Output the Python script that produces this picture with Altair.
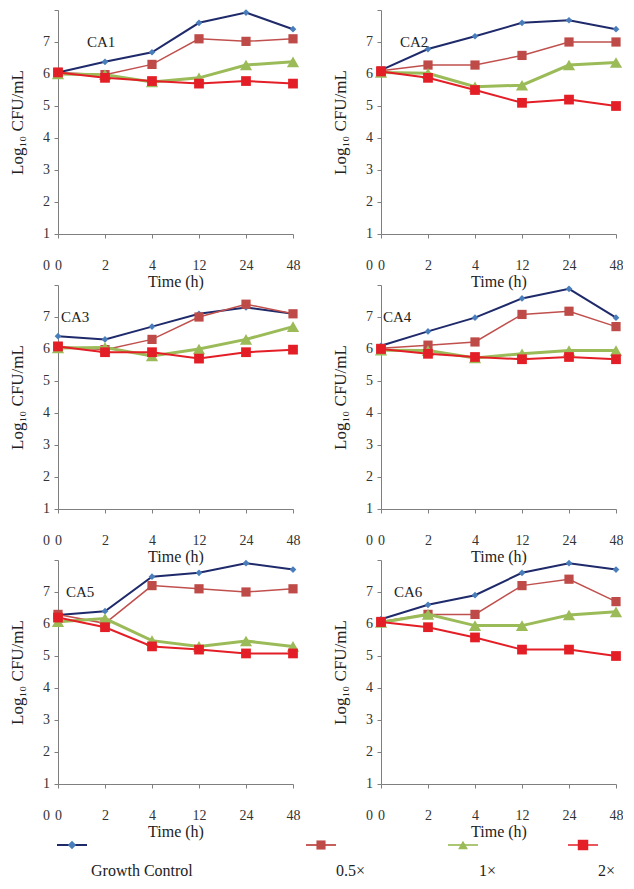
import altair as alt
import pandas as pd

TIMES = ["0", "2", "4", "12", "24", "48"]
SERIES = ["Growth Control", "0.5×", "1×", "2×"]
PANELS = ["CA1", "CA2", "CA3", "CA4", "CA5", "CA6"]
Y_TICKS = [1, 2, 3, 4, 5, 6, 7, 8]
Y_LABELS = [0, 1, 2, 3, 4, 5, 6, 7]

# values (Log10 CFU/mL), one list per series
CA1 = {"Growth Control": [6.05, 6.38, 6.68, 7.60, 7.92, 7.40],
       "0.5×": [6.05, 5.98, 6.30, 7.10, 7.02, 7.10],
       "1×": [6.00, 5.98, 5.75, 5.88, 6.28, 6.38],
       "2×": [6.05, 5.88, 5.78, 5.70, 5.78, 5.70]}
CA2 = {"Growth Control": [6.12, 6.78, 7.18, 7.60, 7.68, 7.40],
       "0.5×": [6.10, 6.28, 6.28, 6.58, 7.00, 7.00],
       "1×": [6.05, 6.02, 5.60, 5.65, 6.28, 6.36],
       "2×": [6.08, 5.88, 5.50, 5.10, 5.20, 5.00]}
CA3 = {"Growth Control": [6.40, 6.30, 6.70, 7.10, 7.30, 7.10],
       "0.5×": [6.08, 5.98, 6.30, 7.00, 7.40, 7.10],
       "1×": [6.03, 6.05, 5.78, 6.00, 6.30, 6.70],
       "2×": [6.08, 5.90, 5.90, 5.70, 5.90, 5.98]}
CA4 = {"Growth Control": [6.10, 6.55, 6.98, 7.58, 7.88, 6.98],
       "0.5×": [6.02, 6.12, 6.22, 7.08, 7.18, 6.70],
       "1×": [5.96, 5.95, 5.72, 5.85, 5.95, 5.95],
       "2×": [6.00, 5.85, 5.75, 5.68, 5.75, 5.68]}
CA5 = {"Growth Control": [6.28, 6.40, 7.48, 7.60, 7.90, 7.70],
       "0.5×": [6.30, 6.02, 7.20, 7.10, 7.00, 7.10],
       "1×": [6.07, 6.17, 5.48, 5.30, 5.47, 5.30],
       "2×": [6.20, 5.90, 5.30, 5.20, 5.08, 5.08]}
CA6 = {"Growth Control": [6.15, 6.60, 6.90, 7.60, 7.90, 7.70],
       "0.5×": [6.08, 6.30, 6.30, 7.20, 7.40, 6.70],
       "1×": [6.05, 6.30, 5.95, 5.95, 6.28, 6.38],
       "2×": [6.06, 5.90, 5.58, 5.20, 5.20, 5.00]}
PANEL_DATA = {"CA1": CA1, "CA2": CA2, "CA3": CA3, "CA4": CA4, "CA5": CA5, "CA6": CA6}

# styles
LINE_COLORS = ["#1F2A6B", "#C0504D", "#9BBB59", "#E41E26"]
POINT_COLORS = ["#4A7EBB", "#BE4B48", "#9BBB59", "#E41E26"]
SHAPES = ["diamond", "square", "triangle-up", "square"]
SIZES = [45, 85, 150, 95]
WIDTHS = [2, 1.5, 3, 2]
LABEL_DX = [29, 19, 3, 2, 8, 13]

FONT = "Liberation Serif"
W, H = 235, 224
GAP_X, GAP_Y = 88, 51

X_ENC = alt.X("time:N", sort=TIMES,
              scale=alt.Scale(type="point", padding=0, domain=TIMES),
              axis=alt.Axis(title="Time (h)", labelAngle=0, tickSize=4,
                            labelPadding=20, titlePadding=1,
                            labelFont=FONT, titleFont=FONT,
                            titleFontWeight="normal",
                            titleFontSize=16, labelFontSize=14))
Y_ENC = alt.Y("value:Q",
              scale=alt.Scale(domain=[1, 8], zero=False, nice=False),
              axis=alt.Axis(title="Log₁₀ CFU/mL", values=Y_TICKS, labels=False,
                            titleFont=FONT, titleFontWeight="normal",
                            tickSize=4, titlePadding=27, titleFontSize=17))


def data_layers(name, dx):
    d = PANEL_DATA[name]
    rows = [{"time": t, "value": v, "series": s}
            for s in SERIES for t, v in zip(TIMES, d[s])]
    df = pd.DataFrame(rows)
    base = alt.Chart(df)
    layers = []
    for i, s in enumerate(SERIES):
        sub = base.transform_filter(alt.datum.series == s)
        layers.append(sub.mark_line(color=LINE_COLORS[i], strokeWidth=WIDTHS[i])
                      .encode(x=X_ENC, y=Y_ENC))
        layers.append(sub.mark_point(shape=SHAPES[i], filled=True, opacity=1,
                                     size=SIZES[i], color=POINT_COLORS[i])
                      .encode(x=X_ENC, y=Y_ENC))
    # y tick labels (incl. the "0" under the axis) placed through the y scale
    ticks_df = pd.DataFrame({"time": [TIMES[0]] * len(Y_LABELS), "value": Y_LABELS,
                             "label": [str(v) for v in Y_LABELS]})
    ytl = alt.Chart(ticks_df).mark_text(
        font=FONT, fontSize=14, align="right", baseline="middle", dx=-8,
        color="#333").encode(x=X_ENC, y=Y_ENC, text="label:N")
    lab_df = pd.DataFrame({"time": [TIMES[0]], "value": [7], "label": [name]})
    lab = alt.Chart(lab_df).mark_text(
        font=FONT, fontSize=15, align="left", baseline="middle", dx=dx,
        color="#222").encode(x=X_ENC, y=Y_ENC, text="label:N")
    return alt.layer(*layers, ytl, lab)


def legend_layers():
    # custom legend: line segment with marker, label underneath
    leg_df = pd.DataFrame({"series": SERIES, "idx": list(range(len(SERIES))),
                           "label": SERIES})
    sym_x = alt.X("idx:Q", scale=alt.Scale(domain=[0, 1, 2, 3],
                                           range=[14, 263, 405, 525],
                                           zero=False, nice=False), axis=None)
    lab_x = alt.X("idx:Q", scale=alt.Scale(domain=[0, 1, 2, 3],
                                           range=[33, 278, 421, 540],
                                           zero=False, nice=False), axis=None)
    ysym = alt.value(H + 61)
    seg = alt.Chart(leg_df).mark_point(shape="M-1,0L1,0", filled=False, size=900,
                                       opacity=1).encode(
        x=sym_x, y=ysym,
        stroke=alt.Stroke("series:N", scale=alt.Scale(domain=SERIES, range=LINE_COLORS),
                          legend=None),
        strokeWidth=alt.StrokeWidth("series:N",
                                    scale=alt.Scale(domain=SERIES, range=WIDTHS),
                                    legend=None))
    mk = alt.Chart(leg_df).mark_point(filled=True, opacity=1).encode(
        x=sym_x, y=ysym,
        fill=alt.Fill("series:N", scale=alt.Scale(domain=SERIES, range=POINT_COLORS),
                      legend=None),
        shape=alt.Shape("series:N", scale=alt.Scale(domain=SERIES, range=SHAPES),
                        legend=None),
        size=alt.Size("series:N", scale=alt.Scale(domain=SERIES,
                                                  range=[70, 110, 190, 110]),
                      legend=None))
    txt = alt.Chart(leg_df).mark_text(font=FONT, fontSize=16, align="left",
                                      baseline="middle", color="#222").encode(
        x=lab_x, y=alt.value(H + 87), text="label:N")
    return [seg, mk, txt]


charts = []
for i, n in enumerate(PANELS):
    core = data_layers(n, LABEL_DX[i])
    if n == "CA5":
        core = alt.layer(core, *legend_layers()).resolve_scale(x="independent")
    charts.append(core.properties(width=W, height=H))

chart = alt.concat(*charts, columns=2, bounds="flush",
                   spacing={"row": GAP_Y, "column": GAP_X}).properties(
    padding={"left": 0, "top": 0, "right": 0, "bottom": 0}
).configure_view(stroke=None).configure_axis(
    grid=False, labelFont=FONT, titleFont=FONT, titleFontWeight="normal",
    domainColor="#7f7f7f", tickColor="#7f7f7f", labelColor="#333333",
    titleColor="#222222")

chart.save("out.html", embed_options={"renderer": "svg", "actions": False})
